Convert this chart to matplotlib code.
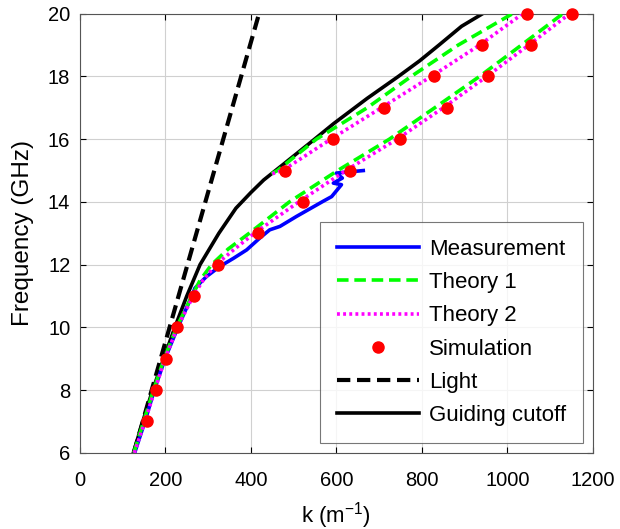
import numpy as np
import matplotlib
matplotlib.use("Agg")
import matplotlib.pyplot as plt

plt.rcParams['font.family'] = ['Liberation Sans', 'DejaVu Sans']
plt.rcParams['mathtext.fontset'] = 'custom'
plt.rcParams['mathtext.rm'] = 'Liberation Sans'
plt.rcParams['mathtext.it'] = 'Liberation Sans:italic'

# measured dispersion (k in 1/m, f in GHz)
meas_k = [128, 152, 174, 199, 229, 262, 269, 296, 327, 359, 390, 421, 444, 468, 507,
          569, 589, 612, 593, 614, 600, 663]
meas_f = [6, 7, 8, 9, 10, 11, 11.25, 11.62, 11.94, 12.2, 12.47, 12.85, 13.11, 13.22, 13.54,
          14.02, 14.17, 14.55, 14.6, 14.76, 14.92, 15.0]

# theory 1, lower and upper branch
th1_low_f = [6, 7, 8, 9, 10, 11, 11.5, 12, 12.5, 13, 14, 15, 16, 17, 18, 19, 20]
th1_low_k = [126, 149, 172, 197, 226, 262, 281, 308, 347, 396, 490, 603, 724, 830, 935, 1033, 1130]
th1_up_f = [14.9, 15, 16, 17, 18, 19, 20]
th1_up_k = [448, 462, 553, 672, 775, 885, 1012]

# theory 2, lower and upper branch
th2_low_f = [6, 7, 8, 9, 10, 11, 11.5, 12, 12.5, 13, 14, 15, 16, 17, 18, 19, 20]
th2_low_k = [127, 152, 175, 199, 228, 265, 288, 318, 362, 408, 512, 622, 742, 850, 952, 1050, 1146]
th2_up_f = [14.9, 15, 16, 17, 18, 19, 20]
th2_up_k = [450, 474, 587, 705, 822, 935, 1036]

# simulated points
sim_k = [158, 177, 201, 228, 266, 324, 416, 522, 633, 750, 858, 955, 1055, 1152,
         479, 591, 711, 828, 940, 1047]
sim_f = [7, 8, 9, 10, 11, 12, 13, 14, 15, 16, 17, 18, 19, 20,
         15, 16, 17, 18, 19, 20]

# light line
light_k = [126, 419]
light_f = [6, 20]

# guiding cutoff
cut_f = [6, 7, 8, 9, 10, 11, 12, 13, 13.8, 14.3, 14.7, 15.2, 15.9, 16.5, 17.3, 18,
         18.5, 19, 19.6, 20]
cut_k = [125, 147, 170, 196, 222, 250, 281, 325, 365, 400, 430, 476, 540, 594, 672, 745,
         795, 840, 893, 942]

fig = plt.figure(figsize=(6.2, 5.29), dpi=100)
ax = fig.add_axes([0.129, 0.144, 0.827, 0.83])

dash = (0, (3.2, 1.6))
dot = (0, (0.8, 0.9))
ax.plot(meas_k, meas_f, color='#0000ff', lw=2.6, label='Measurement', zorder=3)
ax.plot(th1_low_k, th1_low_f, color='#00ff00', lw=2.6, ls=dash, label='Theory 1', zorder=4)
ax.plot(th1_up_k, th1_up_f, color='#00ff00', lw=2.6, ls=dash, zorder=4)
ax.plot(th2_low_k, th2_low_f, color='#ff00ff', lw=2.6, ls=dot, label='Theory 2', zorder=5)
ax.plot(th2_up_k, th2_up_f, color='#ff00ff', lw=2.6, ls=dot, zorder=5)
ax.plot(sim_k, sim_f, 'o', color='#ff0000', ms=8, mec='#ff0000', ls='none', label='Simulation',
        zorder=6, clip_on=False)
ax.plot(light_k, light_f, color='black', lw=3, ls=dash, label='Light', zorder=2)
ax.plot(cut_k, cut_f, color='black', lw=2.6, label='Guiding cutoff', zorder=2)

ax.set_xlim(0, 1200)
ax.set_ylim(6, 20)
ax.set_xticks(np.arange(0, 1201, 200))
ax.set_yticks(np.arange(6, 21, 2))
ax.grid(True, color='#d0d0d0', lw=0.8)
ax.tick_params(direction='in', top=True, right=True, labelsize=14.5, length=4)
ax.tick_params(axis='x', pad=13)
ax.tick_params(axis='y', pad=7)
for s in ax.spines.values():
    s.set_color('#555555')
    s.set_linewidth(0.8)

ax.set_xlabel('k (m$^{-1}$)', fontsize=16, labelpad=7)
ax.set_ylabel('Frequency (GHz)', fontsize=17.5, labelpad=10)

leg = ax.legend(loc='lower right', fontsize=16, frameon=True, fancybox=False,
                edgecolor='#555555', handlelength=3.7, labelspacing=0.55,
                borderaxespad=0.45, handletextpad=0.45, borderpad=0.75)
leg.get_frame().set_linewidth(0.8)

fig.savefig('out.png', dpi=100)
